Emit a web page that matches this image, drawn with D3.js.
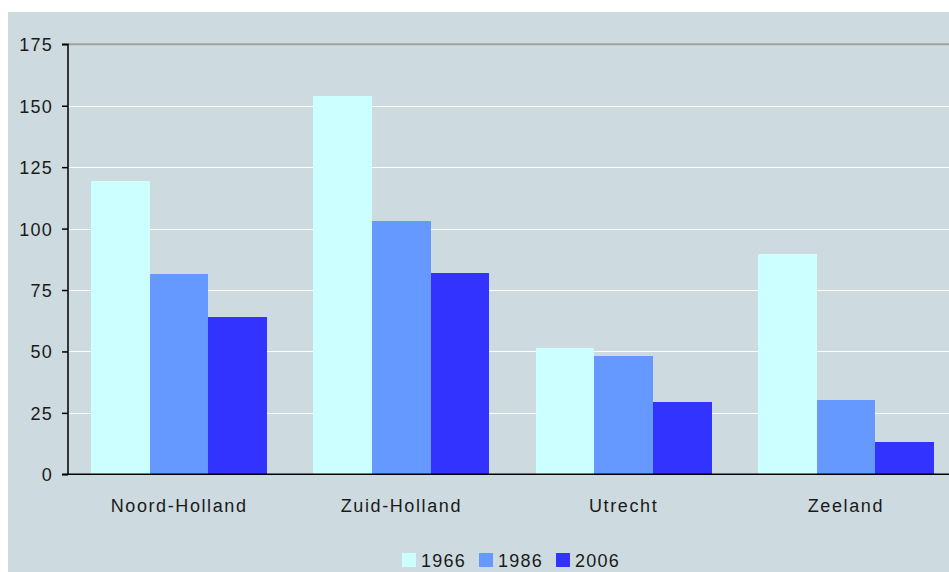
<!DOCTYPE html>
<html>
<head>
<meta charset="utf-8">
<script src="https://cdn.jsdelivr.net/npm/d3@7"></script>
<style>
  html, body { margin: 0; padding: 0; background: #ffffff; }
  svg { display: block; }
  text { font-family: "Liberation Sans", Arial, sans-serif; fill: #1a1a1a; }
</style>
</head>
<body>
<svg id="chart" width="949" height="572"></svg>
<script>
const categories = ["Noord-Holland", "Zuid-Holland", "Utrecht", "Zeeland"];
const seriesNames = ["1966", "1986", "2006"];
const values1966 = [119.4, 154.0, 51.4, 89.7];
const values1986 = [81.5, 103.1, 48.2, 30.3];
const values2006 = [64.0, 82.0, 29.4, 13.1];
const yTicks = [0, 25, 50, 75, 100, 125, 150, 175];
const colors = ["#ccffff", "#6699ff", "#3333ff"];

(function () {
const seriesValues = [values1966, values1986, values2006];
const data = categories.map((c, i) => ({
  category: c,
  values: seriesNames.map((s, j) => ({ series: s, value: seriesValues[j][i] }))
}));

const W = 949, H = 572;
const svg = d3.select("#chart");

// panel background
svg.append("rect").attr("x", 8).attr("y", 12).attr("width", W - 8).attr("height", H - 12)
  .attr("fill", "#cddbe0");

const pLeft = 68, pRight = 957, pTop = 44.3, pBottom = 474.3;

const y = d3.scaleLinear().domain([0, 175]).range([pBottom, pTop]);
const x0 = d3.scaleBand().domain(categories).range([pLeft, pRight])
  .paddingInner(0.207).paddingOuter(0.1035);
const x1 = d3.scaleBand().domain(seriesNames).range([0, x0.bandwidth()]).padding(0);
const color = d3.scaleOrdinal().domain(seriesNames).range(colors);

// gridlines
svg.append("g").selectAll("line").data(yTicks.filter(t => t > 0 && t < 175)).join("line")
  .attr("x1", pLeft).attr("x2", W)
  .attr("y1", d => Math.round(y(d)) + 0.5).attr("y2", d => Math.round(y(d)) + 0.5)
  .attr("stroke", "#ffffff").attr("stroke-width", 1);
svg.append("line").attr("x1", pLeft).attr("x2", W)
  .attr("y1", y(175)).attr("y2", y(175))
  .attr("stroke", "#a0a0a0").attr("stroke-width", 2);

// bars
svg.append("g").selectAll("g").data(data).join("g")
  .attr("transform", d => `translate(${x0(d.category)},0)`)
  .selectAll("rect").data(d => d.values).join("rect")
  .attr("x", d => x1(d.series))
  .attr("width", x1.bandwidth())
  .attr("y", d => y(d.value))
  .attr("height", d => y(0) - y(d.value))
  .attr("fill", d => color(d.series))
  .attr("shape-rendering", "crispEdges");

// y axis
const yAxis = d3.axisLeft(y).tickValues(yTicks).tickSize(6).tickPadding(9);
const gy = svg.append("g").attr("transform", `translate(${pLeft},0)`).call(yAxis);
gy.select(".domain").attr("stroke", "#000").attr("stroke-width", 1.5).attr("d", `M-6,${pTop}H0V${pBottom}`);
gy.selectAll(".tick line").attr("stroke", "#000").attr("stroke-width", 1.5);
gy.selectAll(".tick text").style("font-family", '"Liberation Sans", Arial, sans-serif')
  .style("font-size", "18px").style("letter-spacing", "1.2px").attr("fill", "#1a1a1a")
  .attr("dy", "0.36em");

// x axis baseline
svg.append("line").attr("x1", pLeft - 6).attr("x2", W)
  .attr("y1", pBottom).attr("y2", pBottom)
  .attr("stroke", "#000").attr("stroke-width", 1.5);

// category labels
svg.append("g").selectAll("text").data(categories).join("text")
  .attr("x", d => x0(d) + x0.bandwidth() / 2)
  .attr("y", 512)
  .attr("text-anchor", "middle")
  .style("font-size", "18px").style("letter-spacing", "1.6px")
  .text(d => d);

// legend
const legendX = [402, 479, 556];
const lg = svg.append("g").selectAll("g").data(seriesNames).join("g")
  .attr("transform", (d, i) => `translate(${legendX[i]},553)`);
lg.append("rect").attr("width", 14).attr("height", 14).attr("fill", d => color(d));
lg.append("text").attr("x", 19).attr("y", 13.5)
  .style("font-size", "18px").style("letter-spacing", "1.2px")
  .text(d => d);
})();
</script>
</body>
</html>
